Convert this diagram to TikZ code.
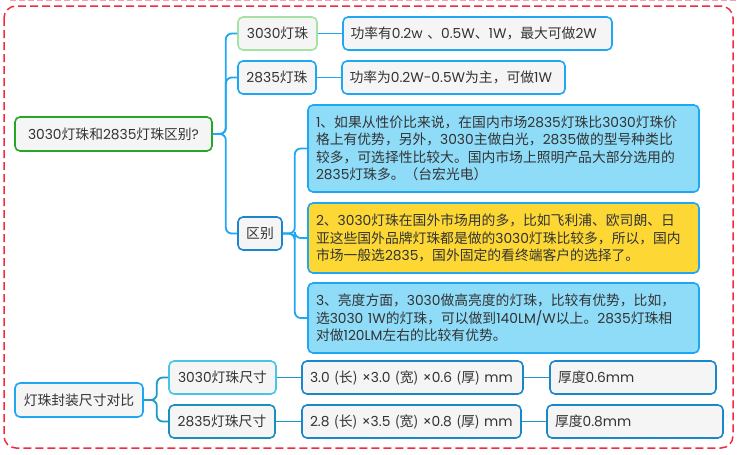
\documentclass[tikz,border=0pt]{standalone}
\usepackage{fontspec}
\setmainfont{Noto Sans CJK SC}
\newfontfamily\latf{Poppins}
\newcommand\p[1]{{\latf #1}}
\definecolor{txt}{HTML}{333333}
\definecolor{boxfill}{HTML}{F5F5F5}
\definecolor{lineblue}{HTML}{1EA7F2}
\definecolor{darkblue}{HTML}{1C86CC}
\definecolor{rootgreen}{HTML}{26A626}
\definecolor{lightgreen}{HTML}{A3E2A3}
\definecolor{skyfill}{HTML}{8FDCF9}
\definecolor{yellowfill}{HTML}{FDD835}
\definecolor{cyanb}{HTML}{45C6E8}
\definecolor{tealb}{HTML}{1A8FBA}
\definecolor{deepb}{HTML}{1A88C8}
\definecolor{tealline}{HTML}{1A9AC8}
\definecolor{redd}{HTML}{F52A40}
\definecolor{pinkd}{HTML}{F4A0A8}
\begin{document}
\begin{tikzpicture}[x=1pt,y=-1pt,
  box/.style={draw, rounded corners=5pt, line width=1.6pt, fill=boxfill, text=txt,
    font=\fontsize{13.8}{17.5}\selectfont, inner xsep=8pt, inner ysep=0pt, anchor=center},
  lbox/.style={box, align=left},
  cbox/.style={box, align=center},
  conn/.style={draw=lineblue, line width=1.8pt, rounded corners=6pt},
  tconn/.style={draw=tealline, line width=1.8pt, rounded corners=6pt}]
\useasboundingbox (0,0) rectangle (739,455);
% frames
\draw[pinkd, line width=1pt, dash pattern=on 6pt off 3pt] (10,0.8) -- (739,0.8);
\draw[redd, line width=1.5pt, dash pattern=on 8pt off 4pt, rounded corners=12pt] (4,6) rectangle (733,448);

% nodes
\node[cbox, draw=rootgreen, minimum width=197pt, minimum height=34pt] (root) at (113.5,134) {\p{3030}灯珠和\p{2835}灯珠区别\p{?}};
\node[cbox, draw=lightgreen, minimum width=79pt, minimum height=33pt] (n3030) at (277.5,33.5) {\p{3030}灯珠};
\node[cbox, draw=lineblue, minimum width=78pt, minimum height=33pt] (n2835) at (277,77.5) {\p{2835}灯珠};
\node[lbox, draw=lineblue, text width=254pt, minimum height=33pt, inner xsep=7.5pt] (p3030) at (477.5,33.5) {功率有\p{0.2w} 、\p{0.5W}、\p{1W}，最大可做\p{2W}};
\node[lbox, draw=lineblue, text width=208pt, minimum height=33pt, inner xsep=7.5pt] (p2835) at (453.5,77.5) {功率为\p{0.2W-0.5W}为主，可做\p{1W}};
\node[cbox, draw=darkblue, minimum width=44pt, minimum height=33pt, inner xsep=5pt] (qb) at (260,233.5) {区别};
\node[lbox, draw=lineblue, fill=skyfill, text width=375pt, minimum height=87pt] (b1) at (503.5,148.5) {\p{1}、如果从性价比来说，在国内市场\p{2835}灯珠比\p{3030}灯珠价\\格上有优势，另外，\p{3030}主做白光，\p{2835}做的型号种类比\\较多，可选择性比较大。国内市场上照明产品大部分选用的\\\p{2835}灯珠多。（台宏光电）};
\node[lbox, draw=lineblue, fill=yellowfill, text width=375pt, minimum height=70pt] (b2) at (503.5,238) {\p{2}、\p{3030}灯珠在国外市场用的多，比如飞利浦、欧司朗、日\\亚这些国外品牌灯珠都是做的\p{3030}灯珠比较多，所以，国内\\市场一般选\p{2835}，国外固定的看终端客户的选择了。};
\node[lbox, draw=lineblue, fill=skyfill, text width=375pt, minimum height=70pt] (b3) at (503.5,318) {\p{3}、亮度方面，\p{3030}做高亮度的灯珠，比较有优势，比如，\\选\p{3030 1W}的灯珠，可以做到\p{140LM/W}以上。\p{2835}灯珠相\\对做\p{120LM}左右的比较有优势。};

\node[cbox, draw=lineblue, minimum width=128pt, minimum height=34pt] (sroot) at (79,400) {灯珠封装尺寸对比};
\node[cbox, draw=cyanb, minimum width=107pt, minimum height=33pt] (s3030) at (222.5,377.5) {\p{3030}灯珠尺寸};
\node[cbox, draw=tealb, minimum width=106pt, minimum height=33pt] (s2835) at (222,421.5) {\p{2835}灯珠尺寸};
\node[lbox, draw=deepb, text width=205pt, minimum height=33pt] (d3030) at (412.5,377.5) {\mbox{\p{3.0} (长) \p{×3.0} (宽) \p{×0.6} (厚) \p{mm}}};
\node[lbox, draw=deepb, text width=203pt, minimum height=33pt] (d2835) at (411.5,421.5) {\mbox{\p{2.8} (长) \p{×3.5} (宽) \p{×0.8} (厚) \p{mm}}};
\node[lbox, draw=deepb, text width=150pt, minimum height=33pt] (t06) at (633,377.5) {厚度\p{0.6mm}};
\node[lbox, draw=deepb, text width=160pt, minimum height=33pt] (t08) at (635,421.5) {厚度\p{0.8mm}};

% connectors
\draw[conn] (root.east) -- ++(13,0) |- (n3030.west);
\draw[conn] (root.east) -- ++(13,0) |- (n2835.west);
\draw[conn] (root.east) -- ++(13,0) |- (qb.west);
\draw[conn] (n3030.east) -- (p3030.west);
\draw[conn] (n2835.east) -- (p2835.west);
\draw[conn] (qb.east) -- ++(12,0) |- (b1.west);
\draw[conn] (qb.east) -- ++(12,0) |- (b2.west);
\draw[conn] (qb.east) -- ++(12,0) |- (b3.west);
\draw[tconn] (sroot.east) -- ++(13,0) |- (s3030.west);
\draw[tconn] (sroot.east) -- ++(13,0) |- (s2835.west);
\draw[tconn] (s3030.east) -- (d3030.west);
\draw[tconn] (s2835.east) -- (d2835.west);
\draw[tconn] (d3030.east) -- (t06.west);
\draw[tconn] (d2835.east) -- (t08.west);
\end{tikzpicture}
\end{document}
